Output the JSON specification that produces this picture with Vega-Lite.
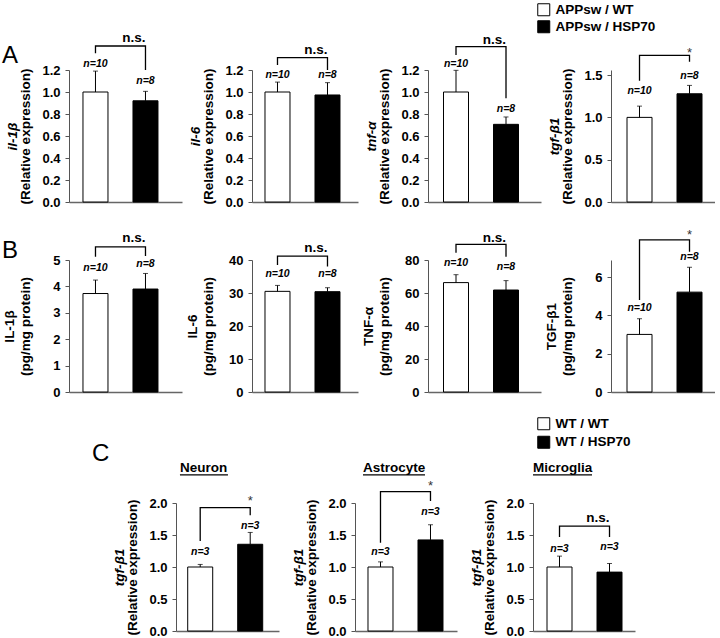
{
"$schema":"https://vega.github.io/schema/vega-lite/v6.json",
"padding":{"left":2,"top":3,"right":0,"bottom":0},
"datasets":{
"A1":[{"k":"bar","g":"APPsw / WT","mean":1.0,"err":1.19,"n":"n=10","ny":1.229},{"k":"bar","g":"APPsw / HSP70","mean":0.92,"err":1.006,"n":"n=8","ny":1.077},{"k":"br","g":"APPsw / WT","y":1.352,"o":1},{"k":"br","g":"APPsw / WT","y":1.418,"o":2},{"k":"br","g":"APPsw / HSP70","y":1.418,"o":3},{"k":"br","g":"APPsw / HSP70","y":1.2,"o":4},{"k":"sig","g":"APPsw / HSP70","y":1.457,"t":"n.s."}],
"A2":[{"k":"bar","g":"APPsw / WT","mean":1.0,"err":1.09,"n":"n=10","ny":1.123},{"k":"bar","g":"APPsw / HSP70","mean":0.973,"err":1.085,"n":"n=8","ny":1.123},{"k":"br","g":"APPsw / WT","y":1.245,"o":1},{"k":"br","g":"APPsw / WT","y":1.312,"o":2},{"k":"br","g":"APPsw / HSP70","y":1.312,"o":3},{"k":"br","g":"APPsw / HSP70","y":1.2,"o":4},{"k":"sig","g":"APPsw / HSP70","y":1.345,"t":"n.s."}],
"A3":[{"k":"bar","g":"APPsw / WT","mean":1.0,"err":1.197,"n":"n=10","ny":1.229},{"k":"bar","g":"APPsw / HSP70","mean":0.706,"err":0.773,"n":"n=8","ny":0.82},{"k":"br","g":"APPsw / WT","y":1.336,"o":1},{"k":"br","g":"APPsw / WT","y":1.412,"o":2},{"k":"br","g":"APPsw / HSP70","y":1.412,"o":3},{"k":"br","g":"APPsw / HSP70","y":0.943,"o":4},{"k":"sig","g":"APPsw / HSP70","y":1.436,"t":"n.s."}],
"A4":[{"k":"bar","g":"APPsw / WT","mean":1.0,"err":1.133,"n":"n=10","ny":1.272},{"k":"bar","g":"APPsw / HSP70","mean":1.279,"err":1.378,"n":"n=8","ny":1.456},{"k":"br","g":"APPsw / WT","y":1.432,"o":1},{"k":"br","g":"APPsw / WT","y":1.734,"o":2},{"k":"br","g":"APPsw / HSP70","y":1.734,"o":3},{"k":"br","g":"APPsw / HSP70","y":1.657,"o":4},{"k":"sig","g":"APPsw / HSP70","y":1.716,"t":"*"}],
"B1":[{"k":"bar","g":"APPsw / WT","mean":3.73,"err":4.24,"n":"n=10","ny":4.59},{"k":"bar","g":"APPsw / HSP70","mean":3.9,"err":4.49,"n":"n=8","ny":4.74},{"k":"br","g":"APPsw / WT","y":5.125,"o":1},{"k":"br","g":"APPsw / WT","y":5.5,"o":2},{"k":"br","g":"APPsw / HSP70","y":5.5,"o":3},{"k":"br","g":"APPsw / HSP70","y":5.15,"o":4},{"k":"sig","g":"APPsw / HSP70","y":5.67,"t":"n.s."}],
"B2":[{"k":"bar","g":"APPsw / WT","mean":30.5,"err":32.3,"n":"n=10","ny":34.7},{"k":"bar","g":"APPsw / HSP70","mean":30.4,"err":31.6,"n":"n=8","ny":34.7},{"k":"br","g":"APPsw / WT","y":38.5,"o":1},{"k":"br","g":"APPsw / WT","y":41.2,"o":2},{"k":"br","g":"APPsw / HSP70","y":41.2,"o":3},{"k":"br","g":"APPsw / HSP70","y":38.0,"o":4},{"k":"sig","g":"APPsw / HSP70","y":42.3,"t":"n.s."}],
"B3":[{"k":"bar","g":"APPsw / WT","mean":66.3,"err":71.1,"n":"n=10","ny":76.2},{"k":"bar","g":"APPsw / HSP70","mean":61.8,"err":67.5,"n":"n=8","ny":74.2},{"k":"br","g":"APPsw / WT","y":84.4,"o":1},{"k":"br","g":"APPsw / WT","y":89.5,"o":2},{"k":"br","g":"APPsw / HSP70","y":89.5,"o":3},{"k":"br","g":"APPsw / HSP70","y":82.0,"o":4},{"k":"sig","g":"APPsw / HSP70","y":90.7,"t":"n.s."}],
"B4":[{"k":"bar","g":"APPsw / WT","mean":3.01,"err":3.83,"n":"n=10","ny":4.23},{"k":"bar","g":"APPsw / HSP70","mean":5.22,"err":6.52,"n":"n=8","ny":6.89},{"k":"br","g":"APPsw / WT","y":4.81,"o":1},{"k":"br","g":"APPsw / WT","y":7.95,"o":2},{"k":"br","g":"APPsw / HSP70","y":7.95,"o":3},{"k":"br","g":"APPsw / HSP70","y":7.33,"o":4},{"k":"sig","g":"APPsw / HSP70","y":8.0,"t":"*"}],
"C1":[{"k":"bar","g":"WT / WT","mean":1.0,"err":1.04,"n":"n=3","ny":1.195},{"k":"bar","g":"WT / HSP70","mean":1.355,"err":1.54,"n":"n=3","ny":1.586},{"k":"br","g":"WT / WT","y":1.406,"o":1},{"k":"br","g":"WT / WT","y":1.927,"o":2},{"k":"br","g":"WT / HSP70","y":1.927,"o":3},{"k":"br","g":"WT / HSP70","y":1.81,"o":4},{"k":"sig","g":"WT / HSP70","y":1.973,"t":"*"}],
"C2":[{"k":"bar","g":"WT / WT","mean":1.0,"err":1.08,"n":"n=3","ny":1.18},{"k":"bar","g":"WT / HSP70","mean":1.423,"err":1.66,"n":"n=3","ny":1.82},{"k":"br","g":"WT / WT","y":1.38,"o":1},{"k":"br","g":"WT / WT","y":2.177,"o":2},{"k":"br","g":"WT / HSP70","y":2.177,"o":3},{"k":"br","g":"WT / HSP70","y":2.03,"o":4},{"k":"sig","g":"WT / HSP70","y":2.21,"t":"*"}],
"C3":[{"k":"bar","g":"WT / WT","mean":1.0,"err":1.17,"n":"n=3","ny":1.23},{"k":"bar","g":"WT / HSP70","mean":0.92,"err":1.055,"n":"n=3","ny":1.26},{"k":"br","g":"WT / WT","y":1.47,"o":1},{"k":"br","g":"WT / WT","y":1.64,"o":2},{"k":"br","g":"WT / HSP70","y":1.64,"o":3},{"k":"br","g":"WT / HSP70","y":1.47,"o":4},{"k":"sig","g":"WT / HSP70","y":1.71,"t":"n.s."}]
},
"vconcat":[
{"vconcat":[
{"title":{"text":"A","anchor":"start","frame":"group","fontSize":24,"fontWeight":"normal","baseline":"alphabetic","offset":0,"dx":-67,"dy":84},
 "hconcat":[
 {"width":113,"height":132,"data":{"name":"A1"},
  "layer":[
   {"layer":[
    {"transform":[{"filter":"datum.k==='bar'"}],"mark":{"type":"bar","stroke":"black","strokeWidth":1},
     "encoding":{"x":{"field":"g","type":"nominal","sort":null,"title":null,"scale":{"paddingInner":0.5,"paddingOuter":0.38,"align":0.368}},
      "y":{"field":"mean","type":"quantitative","scale":{"domain":[0,1.2],"nice":false},"axis":{"values":[0,0.2,0.4,0.6,0.8,1,1.2],"tickCount":20,"format":".1f","labelOverlap":false,"title":"(Relative expression)"}},
      "fill":{"field":"g","type":"nominal","scale":{"domain":["APPsw / WT","APPsw / HSP70"],"range":["white","black"]},"legend":null}}},
    {"transform":[{"filter":"datum.k==='bar'"}],"mark":{"type":"rule","color":"black","strokeWidth":1},
     "encoding":{"x":{"field":"g","type":"nominal","sort":null,"title":null},"y":{"field":"mean","type":"quantitative","scale":{"domain":[0,1.2],"nice":false}},"y2":{"field":"err"}}},
    {"transform":[{"filter":"datum.k==='bar'"}],"mark":{"type":"tick","color":"black","thickness":1,"size":5},
     "encoding":{"x":{"field":"g","type":"nominal","sort":null,"title":null},"y":{"field":"err","type":"quantitative","scale":{"domain":[0,1.2],"nice":false}}}},
    {"transform":[{"filter":"datum.k==='br'"}],"mark":{"type":"line","color":"black","strokeWidth":1.3},
     "encoding":{"x":{"field":"g","type":"nominal","sort":null,"title":null},"y":{"field":"y","type":"quantitative","scale":{"domain":[0,1.2],"nice":false}},"order":{"field":"o"}}},
    {"transform":[{"filter":"datum.k==='sig'"}],"mark":{"type":"text","align":"right","baseline":"alphabetic","fontSize":13.5,"fontWeight":"bold"},
     "encoding":{"x":{"field":"g","type":"nominal","sort":null,"title":null},"y":{"field":"y","type":"quantitative","scale":{"domain":[0,1.2],"nice":false}},"text":{"field":"t"}}}
   ]},
   {"transform":[{"filter":"datum.k==='bar'"}],"mark":{"type":"text","align":"center","baseline":"alphabetic","fontSize":10.5,"fontWeight":"bold","fontStyle":"italic"},
    "encoding":{"x":{"field":"g","type":"nominal","sort":null,"title":null},"y":{"field":"ny","type":"quantitative","scale":{"domain":[0,1.2],"nice":false},"axis":{"orient":"left","title":"il-1β","titleFontStyle":"italic","labels":false,"ticks":false,"domain":false,"titleX":-50}},"text":{"field":"n"}}}
  ],
  "resolve":{"scale":{"y":"independent"}}},
 {"width":106,"height":132,"data":{"name":"A2"},
  "layer":[
   {"layer":[
    {"transform":[{"filter":"datum.k==='bar'"}],"mark":{"type":"bar","stroke":"black","strokeWidth":1},
     "encoding":{"x":{"field":"g","type":"nominal","sort":null,"title":null,"scale":{"paddingInner":0.5,"paddingOuter":0.31,"align":0.419}},
      "y":{"field":"mean","type":"quantitative","scale":{"domain":[0,1.2],"nice":false},"axis":{"values":[0,0.2,0.4,0.6,0.8,1,1.2],"tickCount":20,"format":".1f","labelOverlap":false,"title":"(Relative expression)"}},
      "fill":{"field":"g","type":"nominal","scale":{"domain":["APPsw / WT","APPsw / HSP70"],"range":["white","black"]},"legend":null}}},
    {"transform":[{"filter":"datum.k==='bar'"}],"mark":{"type":"rule","color":"black","strokeWidth":1},
     "encoding":{"x":{"field":"g","type":"nominal","sort":null,"title":null},"y":{"field":"mean","type":"quantitative","scale":{"domain":[0,1.2],"nice":false}},"y2":{"field":"err"}}},
    {"transform":[{"filter":"datum.k==='bar'"}],"mark":{"type":"tick","color":"black","thickness":1,"size":5},
     "encoding":{"x":{"field":"g","type":"nominal","sort":null,"title":null},"y":{"field":"err","type":"quantitative","scale":{"domain":[0,1.2],"nice":false}}}},
    {"transform":[{"filter":"datum.k==='br'"}],"mark":{"type":"line","color":"black","strokeWidth":1.3},
     "encoding":{"x":{"field":"g","type":"nominal","sort":null,"title":null},"y":{"field":"y","type":"quantitative","scale":{"domain":[0,1.2],"nice":false}},"order":{"field":"o"}}},
    {"transform":[{"filter":"datum.k==='sig'"}],"mark":{"type":"text","align":"right","baseline":"alphabetic","fontSize":13.5,"fontWeight":"bold"},
     "encoding":{"x":{"field":"g","type":"nominal","sort":null,"title":null},"y":{"field":"y","type":"quantitative","scale":{"domain":[0,1.2],"nice":false}},"text":{"field":"t"}}}
   ]},
   {"transform":[{"filter":"datum.k==='bar'"}],"mark":{"type":"text","align":"center","baseline":"alphabetic","fontSize":10.5,"fontWeight":"bold","fontStyle":"italic"},
    "encoding":{"x":{"field":"g","type":"nominal","sort":null,"title":null},"y":{"field":"ny","type":"quantitative","scale":{"domain":[0,1.2],"nice":false},"axis":{"orient":"left","title":"il-6","titleFontStyle":"italic","labels":false,"ticks":false,"domain":false,"titleX":-50}},"text":{"field":"n"}}}
  ],
  "resolve":{"scale":{"y":"independent"}}},
 {"width":113,"height":132,"data":{"name":"A3"},
  "layer":[
   {"layer":[
    {"transform":[{"filter":"datum.k==='bar'"}],"mark":{"type":"bar","stroke":"black","strokeWidth":1},
     "encoding":{"x":{"field":"g","type":"nominal","sort":null,"title":null,"scale":{"paddingInner":0.5,"paddingOuter":0.38,"align":0.408}},
      "y":{"field":"mean","type":"quantitative","scale":{"domain":[0,1.2],"nice":false},"axis":{"values":[0,0.2,0.4,0.6,0.8,1,1.2],"tickCount":20,"format":".1f","labelOverlap":false,"title":"(Relative expression)"}},
      "fill":{"field":"g","type":"nominal","scale":{"domain":["APPsw / WT","APPsw / HSP70"],"range":["white","black"]},"legend":null}}},
    {"transform":[{"filter":"datum.k==='bar'"}],"mark":{"type":"rule","color":"black","strokeWidth":1},
     "encoding":{"x":{"field":"g","type":"nominal","sort":null,"title":null},"y":{"field":"mean","type":"quantitative","scale":{"domain":[0,1.2],"nice":false}},"y2":{"field":"err"}}},
    {"transform":[{"filter":"datum.k==='bar'"}],"mark":{"type":"tick","color":"black","thickness":1,"size":5},
     "encoding":{"x":{"field":"g","type":"nominal","sort":null,"title":null},"y":{"field":"err","type":"quantitative","scale":{"domain":[0,1.2],"nice":false}}}},
    {"transform":[{"filter":"datum.k==='br'"}],"mark":{"type":"line","color":"black","strokeWidth":1.3},
     "encoding":{"x":{"field":"g","type":"nominal","sort":null,"title":null},"y":{"field":"y","type":"quantitative","scale":{"domain":[0,1.2],"nice":false}},"order":{"field":"o"}}},
    {"transform":[{"filter":"datum.k==='sig'"}],"mark":{"type":"text","align":"right","baseline":"alphabetic","fontSize":13.5,"fontWeight":"bold"},
     "encoding":{"x":{"field":"g","type":"nominal","sort":null,"title":null},"y":{"field":"y","type":"quantitative","scale":{"domain":[0,1.2],"nice":false}},"text":{"field":"t"}}}
   ]},
   {"transform":[{"filter":"datum.k==='bar'"}],"mark":{"type":"text","align":"center","baseline":"alphabetic","fontSize":10.5,"fontWeight":"bold","fontStyle":"italic"},
    "encoding":{"x":{"field":"g","type":"nominal","sort":null,"title":null},"y":{"field":"ny","type":"quantitative","scale":{"domain":[0,1.2],"nice":false},"axis":{"orient":"left","title":"tnf-α","titleFontStyle":"italic","labels":false,"ticks":false,"domain":false,"titleX":-50}},"text":{"field":"n"}}}
  ],
  "resolve":{"scale":{"y":"independent"}}},
 {"width":104,"height":132,"data":{"name":"A4"},
  "layer":[
   {"layer":[
    {"transform":[{"filter":"datum.k==='bar'"}],"mark":{"type":"bar","stroke":"black","strokeWidth":1},
     "encoding":{"x":{"field":"g","type":"nominal","sort":null,"title":null,"scale":{"paddingInner":0.5,"paddingOuter":0.29,"align":0.552}},
      "y":{"field":"mean","type":"quantitative","scale":{"domain":[0,1.56],"nice":false},"axis":{"values":[0,0.5,1,1.5],"tickCount":20,"format":".1f","labelOverlap":false,"title":"(Relative expression)"}},
      "fill":{"field":"g","type":"nominal","scale":{"domain":["APPsw / WT","APPsw / HSP70"],"range":["white","black"]},
        "legend":{"orient":"none","legendX":-74,"legendY":-67,"title":null,"symbolType":"square","symbolSize":144,"symbolStrokeColor":"black","symbolStrokeWidth":1,"labelFont":"Liberation Sans","labelFontSize":13.5,"labelFontWeight":"bold","labelColor":"black","labelOffset":5,"rowPadding":0}}}},
    {"transform":[{"filter":"datum.k==='bar'"}],"mark":{"type":"rule","color":"black","strokeWidth":1},
     "encoding":{"x":{"field":"g","type":"nominal","sort":null,"title":null},"y":{"field":"mean","type":"quantitative","scale":{"domain":[0,1.56],"nice":false}},"y2":{"field":"err"}}},
    {"transform":[{"filter":"datum.k==='bar'"}],"mark":{"type":"tick","color":"black","thickness":1,"size":5},
     "encoding":{"x":{"field":"g","type":"nominal","sort":null,"title":null},"y":{"field":"err","type":"quantitative","scale":{"domain":[0,1.56],"nice":false}}}},
    {"transform":[{"filter":"datum.k==='br'"}],"mark":{"type":"line","color":"black","strokeWidth":1.3},
     "encoding":{"x":{"field":"g","type":"nominal","sort":null,"title":null},"y":{"field":"y","type":"quantitative","scale":{"domain":[0,1.56],"nice":false}},"order":{"field":"o"}}},
    {"transform":[{"filter":"datum.k==='sig'"}],"mark":{"type":"text","align":"center","baseline":"alphabetic","fontSize":13,"color":"#333"},
     "encoding":{"x":{"field":"g","type":"nominal","sort":null,"title":null},"y":{"field":"y","type":"quantitative","scale":{"domain":[0,1.56],"nice":false}},"text":{"field":"t"}}}
   ]},
   {"transform":[{"filter":"datum.k==='bar'"}],"mark":{"type":"text","align":"center","baseline":"alphabetic","fontSize":10.5,"fontWeight":"bold","fontStyle":"italic"},
    "encoding":{"x":{"field":"g","type":"nominal","sort":null,"title":null},"y":{"field":"ny","type":"quantitative","scale":{"domain":[0,1.56],"nice":false},"axis":{"orient":"left","title":"tgf-β1","titleFontStyle":"italic","labels":false,"ticks":false,"domain":false,"titleX":-50}},"text":{"field":"n"}}}
  ],
  "resolve":{"scale":{"y":"independent"}}}
 ],
 "spacing":70,"bounds":"flush","resolve":{"scale":{"fill":"independent"}}},
{"title":{"text":"B","anchor":"start","frame":"group","fontSize":24,"fontWeight":"normal","baseline":"alphabetic","offset":0,"dx":-67,"dy":53},
 "hconcat":[
 {"width":113,"height":132,"data":{"name":"B1"},
  "layer":[
    {"transform":[{"filter":"datum.k==='bar'"}],"mark":{"type":"bar","stroke":"black","strokeWidth":1},
     "encoding":{"x":{"field":"g","type":"nominal","sort":null,"title":null,"scale":{"paddingInner":0.5,"paddingOuter":0.38,"align":0.368}},
      "y":{"field":"mean","type":"quantitative","scale":{"domain":[0,5],"nice":false},"axis":{"values":[0,1,2,3,4,5],"tickCount":20,"format":"d","labelOverlap":false,"titleX":-53,"title":["IL-1β","(pg/mg protein)"]}},
      "fill":{"field":"g","type":"nominal","scale":{"domain":["APPsw / WT","APPsw / HSP70"],"range":["white","black"]},"legend":null}}},
    {"transform":[{"filter":"datum.k==='bar'"}],"mark":{"type":"rule","color":"black","strokeWidth":1},
     "encoding":{"x":{"field":"g","type":"nominal","sort":null,"title":null},"y":{"field":"mean","type":"quantitative","scale":{"domain":[0,5],"nice":false}},"y2":{"field":"err"}}},
    {"transform":[{"filter":"datum.k==='bar'"}],"mark":{"type":"tick","color":"black","thickness":1,"size":5},
     "encoding":{"x":{"field":"g","type":"nominal","sort":null,"title":null},"y":{"field":"err","type":"quantitative","scale":{"domain":[0,5],"nice":false}}}},
    {"transform":[{"filter":"datum.k==='bar'"}],"mark":{"type":"text","align":"center","baseline":"alphabetic","fontSize":10.5,"fontWeight":"bold","fontStyle":"italic"},
     "encoding":{"x":{"field":"g","type":"nominal","sort":null,"title":null},"y":{"field":"ny","type":"quantitative","scale":{"domain":[0,5],"nice":false}},"text":{"field":"n"}}},
    {"transform":[{"filter":"datum.k==='br'"}],"mark":{"type":"line","color":"black","strokeWidth":1.3},
     "encoding":{"x":{"field":"g","type":"nominal","sort":null,"title":null},"y":{"field":"y","type":"quantitative","scale":{"domain":[0,5],"nice":false}},"order":{"field":"o"}}},
    {"transform":[{"filter":"datum.k==='sig'"}],"mark":{"type":"text","align":"right","baseline":"alphabetic","fontSize":13.5,"fontWeight":"bold"},
     "encoding":{"x":{"field":"g","type":"nominal","sort":null,"title":null},"y":{"field":"y","type":"quantitative","scale":{"domain":[0,5],"nice":false}},"text":{"field":"t"}}}
  ]},
 {"width":106,"height":132,"data":{"name":"B2"},
  "layer":[
    {"transform":[{"filter":"datum.k==='bar'"}],"mark":{"type":"bar","stroke":"black","strokeWidth":1},
     "encoding":{"x":{"field":"g","type":"nominal","sort":null,"title":null,"scale":{"paddingInner":0.5,"paddingOuter":0.31,"align":0.419}},
      "y":{"field":"mean","type":"quantitative","scale":{"domain":[0,40],"nice":false},"axis":{"values":[0,10,20,30,40],"tickCount":20,"format":"d","labelOverlap":false,"titleX":-53,"title":["IL-6","(pg/mg protein)"]}},
      "fill":{"field":"g","type":"nominal","scale":{"domain":["APPsw / WT","APPsw / HSP70"],"range":["white","black"]},"legend":null}}},
    {"transform":[{"filter":"datum.k==='bar'"}],"mark":{"type":"rule","color":"black","strokeWidth":1},
     "encoding":{"x":{"field":"g","type":"nominal","sort":null,"title":null},"y":{"field":"mean","type":"quantitative","scale":{"domain":[0,40],"nice":false}},"y2":{"field":"err"}}},
    {"transform":[{"filter":"datum.k==='bar'"}],"mark":{"type":"tick","color":"black","thickness":1,"size":5},
     "encoding":{"x":{"field":"g","type":"nominal","sort":null,"title":null},"y":{"field":"err","type":"quantitative","scale":{"domain":[0,40],"nice":false}}}},
    {"transform":[{"filter":"datum.k==='bar'"}],"mark":{"type":"text","align":"center","baseline":"alphabetic","fontSize":10.5,"fontWeight":"bold","fontStyle":"italic"},
     "encoding":{"x":{"field":"g","type":"nominal","sort":null,"title":null},"y":{"field":"ny","type":"quantitative","scale":{"domain":[0,40],"nice":false}},"text":{"field":"n"}}},
    {"transform":[{"filter":"datum.k==='br'"}],"mark":{"type":"line","color":"black","strokeWidth":1.3},
     "encoding":{"x":{"field":"g","type":"nominal","sort":null,"title":null},"y":{"field":"y","type":"quantitative","scale":{"domain":[0,40],"nice":false}},"order":{"field":"o"}}},
    {"transform":[{"filter":"datum.k==='sig'"}],"mark":{"type":"text","align":"right","baseline":"alphabetic","fontSize":13.5,"fontWeight":"bold"},
     "encoding":{"x":{"field":"g","type":"nominal","sort":null,"title":null},"y":{"field":"y","type":"quantitative","scale":{"domain":[0,40],"nice":false}},"text":{"field":"t"}}}
  ]},
 {"width":113,"height":132,"data":{"name":"B3"},
  "layer":[
    {"transform":[{"filter":"datum.k==='bar'"}],"mark":{"type":"bar","stroke":"black","strokeWidth":1},
     "encoding":{"x":{"field":"g","type":"nominal","sort":null,"title":null,"scale":{"paddingInner":0.5,"paddingOuter":0.38,"align":0.408}},
      "y":{"field":"mean","type":"quantitative","scale":{"domain":[0,80],"nice":false},"axis":{"values":[0,20,40,60,80],"tickCount":20,"format":"d","labelOverlap":false,"titleX":-53,"title":["TNF-α","(pg/mg protein)"]}},
      "fill":{"field":"g","type":"nominal","scale":{"domain":["APPsw / WT","APPsw / HSP70"],"range":["white","black"]},"legend":null}}},
    {"transform":[{"filter":"datum.k==='bar'"}],"mark":{"type":"rule","color":"black","strokeWidth":1},
     "encoding":{"x":{"field":"g","type":"nominal","sort":null,"title":null},"y":{"field":"mean","type":"quantitative","scale":{"domain":[0,80],"nice":false}},"y2":{"field":"err"}}},
    {"transform":[{"filter":"datum.k==='bar'"}],"mark":{"type":"tick","color":"black","thickness":1,"size":5},
     "encoding":{"x":{"field":"g","type":"nominal","sort":null,"title":null},"y":{"field":"err","type":"quantitative","scale":{"domain":[0,80],"nice":false}}}},
    {"transform":[{"filter":"datum.k==='bar'"}],"mark":{"type":"text","align":"center","baseline":"alphabetic","fontSize":10.5,"fontWeight":"bold","fontStyle":"italic"},
     "encoding":{"x":{"field":"g","type":"nominal","sort":null,"title":null},"y":{"field":"ny","type":"quantitative","scale":{"domain":[0,80],"nice":false}},"text":{"field":"n"}}},
    {"transform":[{"filter":"datum.k==='br'"}],"mark":{"type":"line","color":"black","strokeWidth":1.3},
     "encoding":{"x":{"field":"g","type":"nominal","sort":null,"title":null},"y":{"field":"y","type":"quantitative","scale":{"domain":[0,80],"nice":false}},"order":{"field":"o"}}},
    {"transform":[{"filter":"datum.k==='sig'"}],"mark":{"type":"text","align":"right","baseline":"alphabetic","fontSize":13.5,"fontWeight":"bold"},
     "encoding":{"x":{"field":"g","type":"nominal","sort":null,"title":null},"y":{"field":"y","type":"quantitative","scale":{"domain":[0,80],"nice":false}},"text":{"field":"t"}}}
  ]},
 {"width":104,"height":132,"data":{"name":"B4"},
  "layer":[
    {"transform":[{"filter":"datum.k==='bar'"}],"mark":{"type":"bar","stroke":"black","strokeWidth":1},
     "encoding":{"x":{"field":"g","type":"nominal","sort":null,"title":null,"scale":{"paddingInner":0.5,"paddingOuter":0.29,"align":0.552}},
      "y":{"field":"mean","type":"quantitative","scale":{"domain":[0,6.9],"nice":false},"axis":{"values":[0,2,4,6],"tickCount":20,"format":"d","labelOverlap":false,"titleX":-53,"title":["TGF-β1","(pg/mg protein)"]}},
      "fill":{"field":"g","type":"nominal","scale":{"domain":["APPsw / WT","APPsw / HSP70"],"range":["white","black"]},"legend":null}}},
    {"transform":[{"filter":"datum.k==='bar'"}],"mark":{"type":"rule","color":"black","strokeWidth":1},
     "encoding":{"x":{"field":"g","type":"nominal","sort":null,"title":null},"y":{"field":"mean","type":"quantitative","scale":{"domain":[0,6.9],"nice":false}},"y2":{"field":"err"}}},
    {"transform":[{"filter":"datum.k==='bar'"}],"mark":{"type":"tick","color":"black","thickness":1,"size":5},
     "encoding":{"x":{"field":"g","type":"nominal","sort":null,"title":null},"y":{"field":"err","type":"quantitative","scale":{"domain":[0,6.9],"nice":false}}}},
    {"transform":[{"filter":"datum.k==='bar'"}],"mark":{"type":"text","align":"center","baseline":"alphabetic","fontSize":10.5,"fontWeight":"bold","fontStyle":"italic"},
     "encoding":{"x":{"field":"g","type":"nominal","sort":null,"title":null},"y":{"field":"ny","type":"quantitative","scale":{"domain":[0,6.9],"nice":false}},"text":{"field":"n"}}},
    {"transform":[{"filter":"datum.k==='br'"}],"mark":{"type":"line","color":"black","strokeWidth":1.3},
     "encoding":{"x":{"field":"g","type":"nominal","sort":null,"title":null},"y":{"field":"y","type":"quantitative","scale":{"domain":[0,6.9],"nice":false}},"order":{"field":"o"}}},
    {"transform":[{"filter":"datum.k==='sig'"}],"mark":{"type":"text","align":"center","baseline":"alphabetic","fontSize":13,"color":"#333"},
     "encoding":{"x":{"field":"g","type":"nominal","sort":null,"title":null},"y":{"field":"y","type":"quantitative","scale":{"domain":[0,6.9],"nice":false}},"text":{"field":"t"}}}
  ]}
 ],
 "spacing":70,"bounds":"flush","resolve":{"scale":{"fill":"independent"}}}
],
"spacing":19,"resolve":{"scale":{"fill":"independent"}}},
{"title":{"text":"C","anchor":"start","frame":"group","fontSize":24,"fontWeight":"normal","baseline":"alphabetic","offset":0,"dx":23,"dy":68},
 "hconcat":[
 {"width":31,"height":128,"data":{"values":[]},"mark":"bar",
  "encoding":{"fill":{"field":"g","type":"nominal","scale":{"domain":["WT / WT","WT / HSP70"],"range":["white","black"]},
   "legend":{"orient":"none","legendX":468,"legendY":-86,"title":null,"symbolType":"square","symbolSize":144,"symbolStrokeColor":"black","symbolStrokeWidth":1,"labelFont":"Liberation Sans","labelFontSize":13.5,"labelFontWeight":"bold","labelColor":"black","labelOffset":5,"rowPadding":1.5}}}},
 {"width":103,"height":128,"data":{"name":"C1"},
  "title":{"text":"Neuron","anchor":"start","frame":"group","fontSize":13.5,"fontWeight":"bold","baseline":"alphabetic","offset":0,"dx":4,"dy":11},
  "layer":[
   {"layer":[
    {"transform":[{"filter":"datum.k==='bar'"}],"mark":{"type":"bar","stroke":"black","strokeWidth":1},
     "encoding":{"x":{"field":"g","type":"nominal","sort":null,"title":null,"scale":{"paddingInner":0.5,"paddingOuter":0.28,"align":0.418}},
      "y":{"field":"mean","type":"quantitative","scale":{"domain":[0,2],"nice":false},"axis":{"values":[0,0.5,1,1.5,2],"tickCount":20,"format":".1f","labelOverlap":false,"title":"(Relative expression)"}},
      "fill":{"field":"g","type":"nominal","scale":{"domain":["WT / WT","WT / HSP70"],"range":["white","black"]},"legend":null}}},
    {"transform":[{"filter":"datum.k==='bar'"}],"mark":{"type":"rule","color":"black","strokeWidth":1},
     "encoding":{"x":{"field":"g","type":"nominal","sort":null,"title":null},"y":{"field":"mean","type":"quantitative","scale":{"domain":[0,2],"nice":false}},"y2":{"field":"err"}}},
    {"transform":[{"filter":"datum.k==='bar'"}],"mark":{"type":"tick","color":"black","thickness":1,"size":5},
     "encoding":{"x":{"field":"g","type":"nominal","sort":null,"title":null},"y":{"field":"err","type":"quantitative","scale":{"domain":[0,2],"nice":false}}}},
    {"transform":[{"filter":"datum.k==='br'"}],"mark":{"type":"line","color":"black","strokeWidth":1.3},
     "encoding":{"x":{"field":"g","type":"nominal","sort":null,"title":null},"y":{"field":"y","type":"quantitative","scale":{"domain":[0,2],"nice":false}},"order":{"field":"o"}}},
    {"transform":[{"filter":"datum.k==='sig'"}],"mark":{"type":"text","align":"center","baseline":"alphabetic","fontSize":13,"color":"#333"},
     "encoding":{"x":{"field":"g","type":"nominal","sort":null,"title":null},"y":{"field":"y","type":"quantitative","scale":{"domain":[0,2],"nice":false}},"text":{"field":"t"}}},
    {"data":{"values":[{}]},"mark":{"type":"rule","color":"black","strokeWidth":1.2},
     "encoding":{"x":{"datum":"WT / WT","type":"nominal","bandPosition":-0.31},"x2":{"datum":"WT / WT","bandPosition":1.61},"y":{"datum":2.44,"type":"quantitative","scale":{"domain":[0,2],"nice":false}}}}
   ]},
   {"transform":[{"filter":"datum.k==='bar'"}],"mark":{"type":"text","align":"center","baseline":"alphabetic","fontSize":10.5,"fontWeight":"bold","fontStyle":"italic"},
    "encoding":{"x":{"field":"g","type":"nominal","sort":null,"title":null},"y":{"field":"ny","type":"quantitative","scale":{"domain":[0,2],"nice":false},"axis":{"orient":"left","title":"tgf-β1","titleFontStyle":"italic","labels":false,"ticks":false,"domain":false,"titleX":-50}},"text":{"field":"n"}}}
  ],
  "resolve":{"scale":{"y":"independent"}}},
 {"width":102,"height":128,"data":{"name":"C2"},
  "title":{"text":"Astrocyte","anchor":"start","frame":"group","fontSize":13.5,"fontWeight":"bold","baseline":"alphabetic","offset":0,"dx":8,"dy":11},
  "layer":[
   {"layer":[
    {"transform":[{"filter":"datum.k==='bar'"}],"mark":{"type":"bar","stroke":"black","strokeWidth":1},
     "encoding":{"x":{"field":"g","type":"nominal","sort":null,"title":null,"scale":{"paddingInner":0.5,"paddingOuter":0.27,"align":0.481}},
      "y":{"field":"mean","type":"quantitative","scale":{"domain":[0,2],"nice":false},"axis":{"values":[0,0.5,1,1.5,2],"tickCount":20,"format":".1f","labelOverlap":false,"title":"(Relative expression)"}},
      "fill":{"field":"g","type":"nominal","scale":{"domain":["WT / WT","WT / HSP70"],"range":["white","black"]},"legend":null}}},
    {"transform":[{"filter":"datum.k==='bar'"}],"mark":{"type":"rule","color":"black","strokeWidth":1},
     "encoding":{"x":{"field":"g","type":"nominal","sort":null,"title":null},"y":{"field":"mean","type":"quantitative","scale":{"domain":[0,2],"nice":false}},"y2":{"field":"err"}}},
    {"transform":[{"filter":"datum.k==='bar'"}],"mark":{"type":"tick","color":"black","thickness":1,"size":5},
     "encoding":{"x":{"field":"g","type":"nominal","sort":null,"title":null},"y":{"field":"err","type":"quantitative","scale":{"domain":[0,2],"nice":false}}}},
    {"transform":[{"filter":"datum.k==='br'"}],"mark":{"type":"line","color":"black","strokeWidth":1.3},
     "encoding":{"x":{"field":"g","type":"nominal","sort":null,"title":null},"y":{"field":"y","type":"quantitative","scale":{"domain":[0,2],"nice":false}},"order":{"field":"o"}}},
    {"transform":[{"filter":"datum.k==='sig'"}],"mark":{"type":"text","align":"center","baseline":"alphabetic","fontSize":13,"color":"#333"},
     "encoding":{"x":{"field":"g","type":"nominal","sort":null,"title":null},"y":{"field":"y","type":"quantitative","scale":{"domain":[0,2],"nice":false}},"text":{"field":"t"}}},
    {"data":{"values":[{}]},"mark":{"type":"rule","color":"black","strokeWidth":1.2},
     "encoding":{"x":{"datum":"WT / WT","type":"nominal","bandPosition":-0.2},"x2":{"datum":"WT / WT","bandPosition":2.28},"y":{"datum":2.44,"type":"quantitative","scale":{"domain":[0,2],"nice":false}}}}
   ]},
   {"transform":[{"filter":"datum.k==='bar'"}],"mark":{"type":"text","align":"center","baseline":"alphabetic","fontSize":10.5,"fontWeight":"bold","fontStyle":"italic"},
    "encoding":{"x":{"field":"g","type":"nominal","sort":null,"title":null},"y":{"field":"ny","type":"quantitative","scale":{"domain":[0,2],"nice":false},"axis":{"orient":"left","title":"tgf-β1","titleFontStyle":"italic","labels":false,"ticks":false,"domain":false,"titleX":-50}},"text":{"field":"n"}}}
  ],
  "resolve":{"scale":{"y":"independent"}}},
 {"width":102,"height":128,"data":{"name":"C3"},
  "title":{"text":"Microglia","anchor":"start","frame":"group","fontSize":13.5,"fontWeight":"bold","baseline":"alphabetic","offset":0,"dx":0,"dy":11},
  "layer":[
   {"layer":[
    {"transform":[{"filter":"datum.k==='bar'"}],"mark":{"type":"bar","stroke":"black","strokeWidth":1},
     "encoding":{"x":{"field":"g","type":"nominal","sort":null,"title":null,"scale":{"paddingInner":0.5,"paddingOuter":0.27,"align":0.519}},
      "y":{"field":"mean","type":"quantitative","scale":{"domain":[0,2],"nice":false},"axis":{"values":[0,0.5,1,1.5,2],"tickCount":20,"format":".1f","labelOverlap":false,"title":"(Relative expression)"}},
      "fill":{"field":"g","type":"nominal","scale":{"domain":["WT / WT","WT / HSP70"],"range":["white","black"]},"legend":null}}},
    {"transform":[{"filter":"datum.k==='bar'"}],"mark":{"type":"rule","color":"black","strokeWidth":1},
     "encoding":{"x":{"field":"g","type":"nominal","sort":null,"title":null},"y":{"field":"mean","type":"quantitative","scale":{"domain":[0,2],"nice":false}},"y2":{"field":"err"}}},
    {"transform":[{"filter":"datum.k==='bar'"}],"mark":{"type":"tick","color":"black","thickness":1,"size":5},
     "encoding":{"x":{"field":"g","type":"nominal","sort":null,"title":null},"y":{"field":"err","type":"quantitative","scale":{"domain":[0,2],"nice":false}}}},
    {"transform":[{"filter":"datum.k==='br'"}],"mark":{"type":"line","color":"black","strokeWidth":1.3},
     "encoding":{"x":{"field":"g","type":"nominal","sort":null,"title":null},"y":{"field":"y","type":"quantitative","scale":{"domain":[0,2],"nice":false}},"order":{"field":"o"}}},
    {"transform":[{"filter":"datum.k==='sig'"}],"mark":{"type":"text","align":"right","baseline":"alphabetic","fontSize":13.5,"fontWeight":"bold"},
     "encoding":{"x":{"field":"g","type":"nominal","sort":null,"title":null},"y":{"field":"y","type":"quantitative","scale":{"domain":[0,2],"nice":false}},"text":{"field":"t"}}},
    {"data":{"values":[{}]},"mark":{"type":"rule","color":"black","strokeWidth":1.2},
     "encoding":{"x":{"datum":"WT / WT","type":"nominal","bandPosition":-0.56},"x2":{"datum":"WT / WT","bandPosition":1.8},"y":{"datum":2.44,"type":"quantitative","scale":{"domain":[0,2],"nice":false}}}}
   ]},
   {"transform":[{"filter":"datum.k==='bar'"}],"mark":{"type":"text","align":"center","baseline":"alphabetic","fontSize":10.5,"fontWeight":"bold","fontStyle":"italic"},
    "encoding":{"x":{"field":"g","type":"nominal","sort":null,"title":null},"y":{"field":"ny","type":"quantitative","scale":{"domain":[0,2],"nice":false},"axis":{"orient":"left","title":"tgf-β1","titleFontStyle":"italic","labels":false,"ticks":false,"domain":false,"titleX":-50}},"text":{"field":"n"}}}
  ],
  "resolve":{"scale":{"y":"independent"}}}
 ],
 "spacing":76,"bounds":"flush","resolve":{"scale":{"fill":"independent"}}}
],
"spacing":18,
"resolve":{"scale":{"fill":"independent"}},
"config":{
 "view":{"stroke":null},
 "font":"Liberation Sans",
 "axisY":{"labelFont":"Liberation Sans","labelFontSize":13,"labelFontWeight":"bold","labelColor":"black","labelPadding":5,"labelOverlap":false,"tickSize":4,"tickColor":"#555","domainColor":"#555","titleFont":"Liberation Sans","titleFontSize":13.5,"titleFontWeight":"bold","titleColor":"black","titleX":-37,"grid":false,"titleLineHeight":16},
 "axisX":{"labels":false,"ticks":false,"grid":false,"domainColor":"#666","domainWidth":1.5},
 "title":{"font":"Liberation Sans","color":"black"},
 "text":{"font":"Liberation Sans","color":"black"}
}
}
